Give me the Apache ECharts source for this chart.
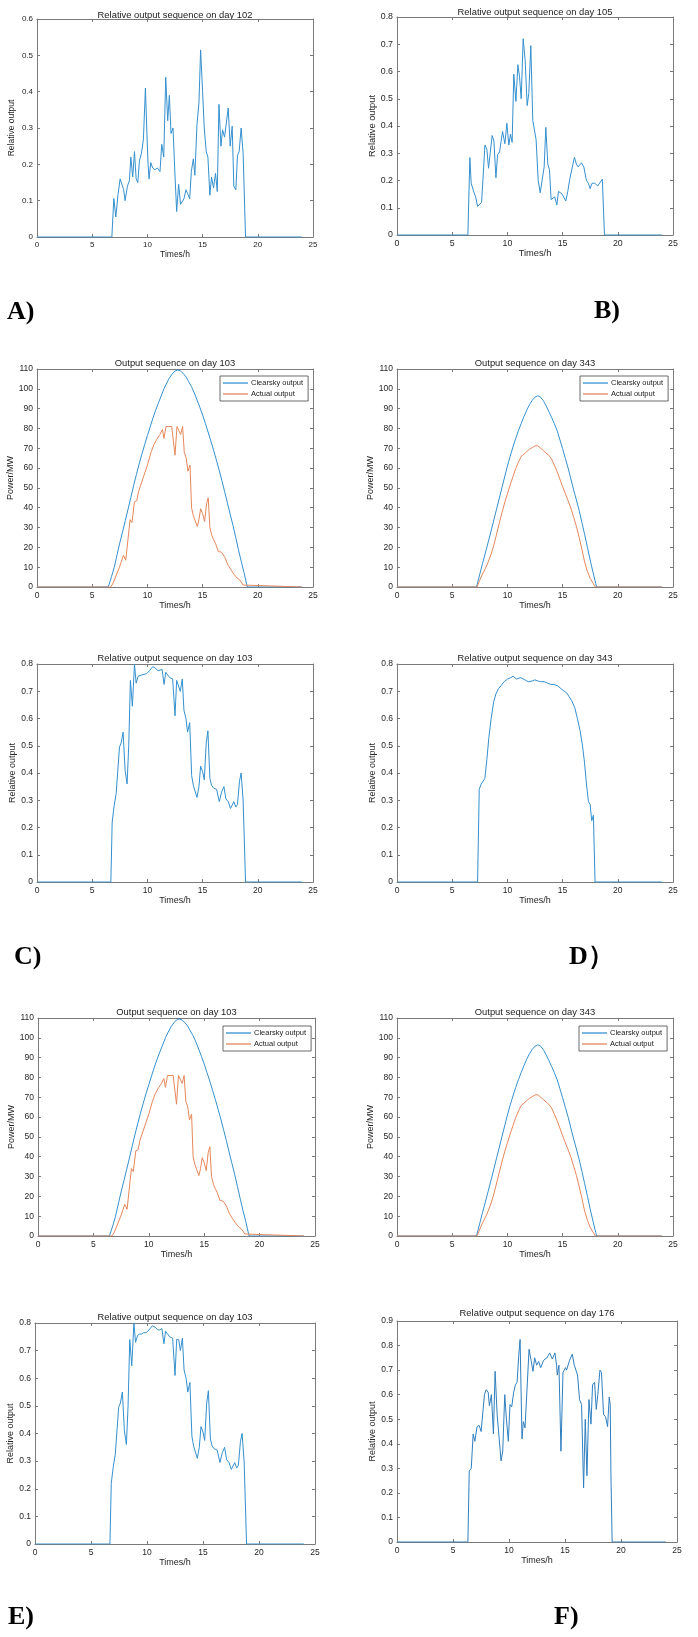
<!DOCTYPE html>
<html>
<head>
<meta charset="utf-8">
<script src="https://cdn.jsdelivr.net/npm/echarts@6/dist/echarts.min.js"></script>
<style>
  html, body { margin: 0; padding: 0; background: #fff; }
  #chart { width: 698px; height: 1637px; }
</style>
</head>
<body>
<div id="chart"></div>
<script>
// ---- data: [hour, value] ----
const day102Rel = [[0,0],[6.78,0],[6.96,0.106],[7.14,0.055],[7.35,0.12],[7.53,0.16],[7.68,0.165],[7.85,0.13],[7.98,0.10],[8.19,0.14],[8.37,0.155],[8.5,0.22],[8.67,0.165],[8.83,0.235],[8.98,0.16],[9.13,0.15],[9.28,0.21],[9.46,0.23],[9.64,0.27],[9.82,0.41],[9.94,0.30],[10.06,0.2],[10.15,0.16],[10.3,0.205],[10.48,0.19],[10.69,0.185],[10.9,0.19],[11.14,0.18],[11.3,0.255],[11.48,0.22],[11.66,0.44],[11.84,0.32],[11.99,0.39],[12.14,0.285],[12.32,0.30],[12.47,0.19],[12.65,0.07],[12.83,0.145],[13.0,0.09],[13.16,0.085],[13.31,0.105],[13.49,0.13],[13.64,0.12],[13.83,0.105],[13.98,0.18],[14.16,0.215],[14.3,0.17],[14.49,0.31],[14.67,0.37],[14.82,0.515],[15.0,0.40],[15.15,0.30],[15.33,0.235],[15.48,0.22],[15.66,0.115],[15.81,0.165],[15.99,0.135],[16.17,0.175],[16.33,0.125],[16.48,0.365],[16.66,0.25],[16.81,0.295],[16.99,0.275],[17.17,0.28],[17.32,0.355],[17.5,0.25],[17.68,0.305],[17.83,0.14],[18.01,0.13],[18.16,0.225],[18.31,0.235],[18.49,0.30],[18.67,0.23],[18.89,0],[24,0]];

const day105Rel = [[0,0],[6.42,0],[6.6,0.284],[6.72,0.19],[6.94,0.16],[7.12,0.14],[7.3,0.105],[7.48,0.105],[7.66,0.12],[7.81,0.22],[7.96,0.33],[8.14,0.315],[8.29,0.245],[8.44,0.3],[8.62,0.365],[8.78,0.345],[8.96,0.21],[9.11,0.295],[9.29,0.305],[9.56,0.38],[9.77,0.335],[9.95,0.41],[10.13,0.33],[10.28,0.37],[10.43,0.34],[10.58,0.59],[10.77,0.49],[10.95,0.625],[11.1,0.58],[11.25,0.50],[11.43,0.72],[11.61,0.64],[11.79,0.475],[11.94,0.52],[12.12,0.695],[12.3,0.42],[12.6,0.35],[12.79,0.2],[12.97,0.155],[13.15,0.16],[13.33,0.25],[13.48,0.395],[13.66,0.26],[13.81,0.24],[13.96,0.13],[14.14,0.125],[14.29,0.14],[14.48,0.11],[14.63,0.16],[14.81,0.155],[14.96,0.15],[15.29,0.125],[15.47,0.16],[15.65,0.205],[15.83,0.21],[16.07,0.285],[16.25,0.26],[16.41,0.25],[16.71,0.265],[16.92,0.25],[17.16,0.2],[17.34,0.19],[17.49,0.17],[17.67,0.19],[17.91,0.19],[18.18,0.18],[18.36,0.18],[18.6,0.205],[18.79,0],[24,0]];

const day103Clear = [[0,0],[6.45,0],[6.5,0.8],[6.75,5.2],[7.0,10],[7.25,16.2],[7.5,22.3],[7.75,27.8],[8.0,33.5],[8.25,39.3],[8.5,45.2],[8.75,51.1],[9.0,56.7],[9.25,62],[9.5,67],[9.75,71.8],[10.0,76.4],[10.25,80.8],[10.5,85.2],[10.75,89.2],[11.0,92.9],[11.25,96.4],[11.5,100],[11.75,102.9],[12.0,105.5],[12.25,107.5],[12.5,109],[12.75,109.5],[13.0,109],[13.25,107.7],[13.5,106],[13.75,103.5],[14.0,101],[14.25,97.9],[14.5,94.3],[14.75,90.7],[15.0,86.8],[15.25,82.5],[15.5,78.2],[15.75,73.6],[16.0,69],[16.25,64],[16.5,59],[16.75,53.6],[17.0,48.1],[17.25,42.3],[17.5,36.7],[17.75,31.1],[18.0,25],[18.25,18.8],[18.5,12.9],[18.75,7.3],[19.0,1.2],[19.05,0],[24,0]];

const day103Actual = [[0,0],[6.67,0],[6.85,1.5],[7.08,4.5],[7.25,7],[7.47,10],[7.65,13],[7.83,16],[8.04,13.5],[8.22,14],[8.43,34],[8.6,32.5],[8.67,32],[8.83,43],[9.04,43.5],[9.19,48],[9.49,53],[9.79,58],[10.03,62],[10.33,68],[10.6,72],[10.9,75],[11.14,77],[11.36,79.5],[11.5,75],[11.69,81],[11.9,81],[12.2,81],[12.35,81],[12.5,66.5],[12.68,81],[12.86,80.5],[13.01,77],[13.19,81],[13.34,68],[13.52,65],[13.67,58.5],[13.86,61.5],[14.0,40],[14.16,36],[14.34,35],[14.52,30.5],[14.67,34],[14.82,39.5],[15.0,37],[15.18,33],[15.36,42],[15.51,45],[15.66,30],[15.84,26],[15.99,24],[16.17,22],[16.42,18],[16.72,17.5],[17.02,15],[17.26,11.5],[17.53,9],[17.83,6.5],[18.13,4.5],[18.37,3.5],[18.67,1],[18.85,0],[24,0]];

const day103Rel = [[0,0],[6.69,0],[6.81,0.22],[6.99,0.28],[7.17,0.325],[7.32,0.325],[7.47,0.495],[7.62,0.51],[7.8,0.55],[7.98,0.41],[8.16,0.36],[8.31,0.5],[8.46,0.74],[8.64,0.645],[8.83,0.8],[8.98,0.73],[9.16,0.755],[9.34,0.76],[9.52,0.76],[9.7,0.765],[9.94,0.765],[10.18,0.775],[10.48,0.79],[10.72,0.785],[10.96,0.775],[11.14,0.775],[11.33,0.78],[11.51,0.725],[11.66,0.77],[11.84,0.76],[12.02,0.75],[12.29,0.745],[12.5,0.61],[12.65,0.74],[12.83,0.74],[12.98,0.7],[13.16,0.745],[13.31,0.63],[13.49,0.6],[13.64,0.55],[13.83,0.585],[14.01,0.39],[14.16,0.355],[14.31,0.355],[14.49,0.31],[14.67,0.35],[14.82,0.425],[15.0,0.405],[15.15,0.375],[15.33,0.51],[15.48,0.555],[15.66,0.38],[15.81,0.355],[15.99,0.345],[16.27,0.34],[16.51,0.295],[16.72,0.33],[16.93,0.35],[17.11,0.305],[17.32,0.295],[17.53,0.27],[17.65,0.27],[17.83,0.295],[18.01,0.275],[18.16,0.285],[18.34,0.37],[18.49,0.4],[18.67,0.3],[18.89,0],[24,0]];

const day343Clear = [[0,0],[7.2,0],[7.25,1],[7.5,6.5],[7.75,11.9],[8.0,17.1],[8.25,22.4],[8.5,27.8],[8.75,33.3],[9.0,38.9],[9.25,44.4],[9.5,50],[9.75,55.5],[10.0,61],[10.25,66],[10.5,70.6],[10.75,74.9],[11.0,78.9],[11.25,82.5],[11.5,86],[11.75,89.2],[12.0,92],[12.25,94.2],[12.5,95.8],[12.75,96.5],[13.0,95.8],[13.25,94.1],[13.5,91.5],[13.75,88.6],[14.0,85.6],[14.25,82.4],[14.5,79],[14.75,74.4],[15.0,69.8],[15.25,64.9],[15.5,60],[15.75,54.5],[16.0,49],[16.25,43.9],[16.5,38.6],[16.75,32.6],[17.0,26.4],[17.25,20],[17.5,13.6],[17.75,7.5],[18.0,1.8],[18.08,0],[24,0]];

const day343Actual = [[0,0],[7.25,0],[7.5,3.5],[7.75,6.6],[8.0,9.3],[8.25,12.5],[8.5,16.2],[8.75,20.7],[9.0,26.2],[9.25,31.8],[9.5,37.3],[9.75,42.4],[10.0,47],[10.25,51.5],[10.5,55.6],[10.75,59.7],[11.0,63],[11.25,65.9],[11.5,67],[11.75,68.3],[12.0,69.5],[12.25,70.3],[12.5,71.2],[12.75,71.3],[13.0,70.1],[13.25,68.9],[13.5,67.6],[13.75,66.5],[14.0,64.6],[14.25,61.5],[14.5,58.2],[14.75,54.5],[15.0,50.7],[15.25,47.1],[15.5,43.5],[15.75,39.8],[16.0,35.2],[16.25,30.6],[16.5,25],[16.75,19],[17.0,12.5],[17.25,7.8],[17.5,4.4],[17.75,2],[17.96,0],[24,0]];

const day343Rel = [[0,0],[7.3,0],[7.45,0.34],[7.63,0.36],[7.81,0.36],[7.96,0.38],[8.14,0.45],[8.32,0.53],[8.53,0.6],[8.75,0.66],[8.96,0.69],[9.2,0.71],[9.41,0.72],[9.71,0.735],[10.01,0.745],[10.31,0.75],[10.52,0.755],[10.65,0.755],[10.83,0.745],[11.01,0.752],[11.22,0.75],[11.43,0.745],[11.67,0.74],[11.88,0.735],[12.03,0.74],[12.27,0.738],[12.48,0.742],[12.73,0.738],[13.03,0.735],[13.33,0.735],[13.63,0.73],[13.93,0.725],[14.23,0.725],[14.54,0.72],[14.84,0.71],[15.14,0.7],[15.35,0.695],[15.59,0.68],[15.83,0.665],[16.1,0.64],[16.34,0.6],[16.59,0.555],[16.8,0.5],[16.98,0.44],[17.16,0.36],[17.34,0.295],[17.49,0.285],[17.64,0.225],[17.79,0.245],[17.94,0],[24,0]];

const day176Rel = [[0,0],[6.33,0],[6.45,0.29],[6.63,0.3],[6.8,0.44],[6.95,0.41],[7.15,0.47],[7.33,0.475],[7.51,0.45],[7.63,0.445],[7.81,0.6],[7.96,0.62],[8.14,0.61],[8.25,0.555],[8.43,0.6],[8.61,0.44],[8.76,0.695],[8.94,0.52],[9.06,0.52],[9.29,0.33],[9.44,0.37],[9.62,0.6],[9.77,0.5],[9.94,0.41],[10.09,0.56],[10.24,0.55],[10.42,0.61],[10.57,0.64],[10.72,0.65],[10.87,0.76],[10.99,0.825],[11.16,0.42],[11.28,0.49],[11.43,0.465],[11.58,0.47],[11.79,0.785],[11.97,0.74],[12.14,0.695],[12.29,0.75],[12.47,0.72],[12.65,0.735],[12.83,0.71],[13.09,0.74],[13.39,0.75],[13.63,0.77],[13.87,0.745],[14.1,0.77],[14.25,0.72],[14.31,0.68],[14.46,0.72],[14.64,0.37],[14.82,0.69],[15.05,0.71],[15.14,0.7],[15.41,0.74],[15.65,0.765],[15.83,0.72],[16.12,0.68],[16.3,0.58],[16.48,0.56],[16.66,0.22],[16.81,0.5],[16.96,0.27],[17.14,0.58],[17.32,0.48],[17.46,0.64],[17.64,0.65],[17.79,0.54],[17.93,0.6],[18.12,0.7],[18.26,0.69],[18.44,0.52],[18.62,0.51],[18.8,0.47],[18.95,0.59],[19.04,0.56],[19.1,0.28],[19.21,0],[24,0]];

// ---- styling ----
const BLUE = '#3490cf';
const ORANGE = '#e6875a';
const FRAME = '#7a7a7a';
const SANS = '"Liberation Sans", Arial, sans-serif';
const SERIF = '"Liberation Serif", "Times New Roman", serif';

// panel boxes in pixels: left, top, width, height
const panels = [
  { box: [37, 19, 276, 218], yMax: 0.6, step: 0.1, title: 'Relative output sequence on day 102', titleY: 15, yName: 'Relative output', yGap: 21, xGap: 10, fs: 8,
    lines: [{ name: 'rel102', data: day102Rel, color: BLUE }] },
  { box: [397, 17, 276, 218], yMax: 0.8, step: 0.1, title: 'Relative output sequence on day 105', titleY: 12, yName: 'Relative output', yGap: 20, xGap: 14, fs: 8.8,
    lines: [{ name: 'rel105', data: day105Rel, color: BLUE }] },
  { box: [37, 369, 276, 218], yMax: 110, step: 10, title: 'Output sequence on day 103', titleY: 363, yName: 'Power/MW', yGap: 21, xGap: 13, fs: 8.5,
    lines: [{ name: 'Clearsky output', data: day103Clear, color: BLUE }, { name: 'Actual output', data: day103Actual, color: ORANGE }],
    legend: [220, 376] },
  { box: [397, 369, 276, 218], yMax: 110, step: 10, title: 'Output sequence on day 343', titleY: 363, yName: 'Power/MW', yGap: 22, xGap: 13, fs: 8.5,
    lines: [{ name: 'Clearsky output', data: day343Clear, color: BLUE }, { name: 'Actual output', data: day343Actual, color: ORANGE }],
    legend: [580, 376] },
  { box: [37, 664, 276, 218], yMax: 0.8, step: 0.1, title: 'Relative output sequence on day 103', titleY: 658, yName: 'Relative output', yGap: 20, xGap: 14, fs: 8.5,
    lines: [{ name: 'rel103', data: day103Rel, color: BLUE }] },
  { box: [397, 664, 276, 218], yMax: 0.8, step: 0.1, title: 'Relative output sequence on day 343', titleY: 658, yName: 'Relative output', yGap: 20, xGap: 14, fs: 8.5,
    lines: [{ name: 'rel343', data: day343Rel, color: BLUE }] },
  { box: [38, 1018, 277, 218], yMax: 110, step: 10, title: 'Output sequence on day 103', titleY: 1012, yName: 'Power/MW', yGap: 21, xGap: 13, fs: 8.5,
    lines: [{ name: 'Clearsky output', data: day103Clear, color: BLUE }, { name: 'Actual output', data: day103Actual, color: ORANGE }],
    legend: [223, 1026] },
  { box: [397, 1018, 276, 218], yMax: 110, step: 10, title: 'Output sequence on day 343', titleY: 1012, yName: 'Power/MW', yGap: 22, xGap: 13, fs: 8.5,
    lines: [{ name: 'Clearsky output', data: day343Clear, color: BLUE }, { name: 'Actual output', data: day343Actual, color: ORANGE }],
    legend: [579, 1026] },
  { box: [35, 1323, 280, 221], yMax: 0.8, step: 0.1, title: 'Relative output sequence on day 103', titleY: 1317, yName: 'Relative output', yGap: 19, xGap: 14, fs: 8.5,
    lines: [{ name: 'rel103b', data: day103Rel, color: BLUE }] },
  { box: [397, 1321, 280, 221], yMax: 0.9, step: 0.1, title: 'Relative output sequence on day 176', titleY: 1313, yName: 'Relative output', yGap: 20, xGap: 14, fs: 8.5,
    lines: [{ name: 'rel176', data: day176Rel, color: '#2f7fbf' }] }
];

const panelLabels = [
  { text: 'A)', x: 7, y: 312 }, { text: 'B)', x: 594, y: 311 },
  { text: 'C)', x: 14, y: 957 }, { text: 'D）', x: 569, y: 957 },
  { text: 'E)', x: 8, y: 1617 }, { text: 'F)', x: 554, y: 1617 }
];

const grid = [], xAxis = [], yAxis = [], series = [], legend = [], graphic = [];

panels.forEach(function (p, i) {
  const [l, t, w, h] = p.box;
  grid.push({ left: l, top: t, width: w, height: h, containLabel: false, show: false });

  const line = { show: true, onZero: false, lineStyle: { color: FRAME, width: 1 } };
  const tick = { show: true, inside: true, length: 3, lineStyle: { color: FRAME, width: 1 } };
  const label = { fontSize: p.fs, color: '#262626', fontFamily: SANS, margin: 4 };

  xAxis.push({
    type: 'value', gridIndex: i, min: 0, max: 25, interval: 5, position: 'bottom',
    axisLine: line, axisTick: tick, axisLabel: label, splitLine: { show: false },
    name: 'Times/h', nameLocation: 'middle', nameGap: p.xGap,
    nameTextStyle: { fontSize: p.fs + 0.5, color: '#262626', fontFamily: SANS, verticalAlign: 'top' }
  });
  xAxis.push({
    type: 'value', gridIndex: i, min: 0, max: 25, interval: 5, position: 'top',
    axisLine: line, axisTick: tick, axisLabel: { show: false }, splitLine: { show: false }
  });
  yAxis.push({
    type: 'value', gridIndex: i, min: 0, max: p.yMax, interval: p.step, position: 'left',
    axisLine: line, axisTick: tick, axisLabel: label, splitLine: { show: false },
    name: p.yName, nameLocation: 'middle', nameGap: p.yGap,
    nameTextStyle: { fontSize: p.fs + 0.5, color: '#262626', fontFamily: SANS }
  });
  yAxis.push({
    type: 'value', gridIndex: i, min: 0, max: p.yMax, interval: p.step, position: 'right',
    axisLine: line, axisTick: tick, axisLabel: { show: false }, splitLine: { show: false }
  });

  p.lines.forEach(function (s) {
    series.push({
      type: 'line', name: s.name, xAxisIndex: 2 * i, yAxisIndex: 2 * i,
      data: s.data, symbol: 'none', smooth: false,
      color: s.color, lineStyle: { color: s.color, width: 1 }, animation: false, silent: true
    });
  });

  if (p.legend) {
    legend.push({
      left: p.legend[0], top: p.legend[1], orient: 'vertical',
      icon: 'rect', itemWidth: 25, itemHeight: 1.3, itemGap: 3, padding: [3, 5, 3, 3],
      borderColor: '#444', borderWidth: 0.8, backgroundColor: '#fff',
      textStyle: { fontSize: 7.5, color: '#222', fontFamily: SANS, padding: [0, 0, 0, -2] },
      selectedMode: false,
      data: ['Clearsky output', 'Actual output']
    });
  }

  graphic.push({
    type: 'text', x: l + w / 2, y: p.titleY, silent: true,
    style: { text: p.title, align: 'center', verticalAlign: 'middle', font: '9.4px ' + SANS, fill: '#1a1a1a' }
  });
});

panelLabels.forEach(function (d) {
  graphic.push({
    type: 'text', x: d.x, y: d.y, silent: true,
    style: { text: d.text, verticalAlign: 'middle', font: 'bold 26px ' + SERIF, fill: '#000' }
  });
});

const myChart = echarts.init(document.getElementById('chart'), null, { renderer: 'canvas' });
myChart.setOption({
  backgroundColor: '#fff',
  animation: false,
  grid: grid,
  xAxis: xAxis,
  yAxis: yAxis,
  legend: legend,
  series: series,
  graphic: graphic
});
</script>
</body>
</html>
